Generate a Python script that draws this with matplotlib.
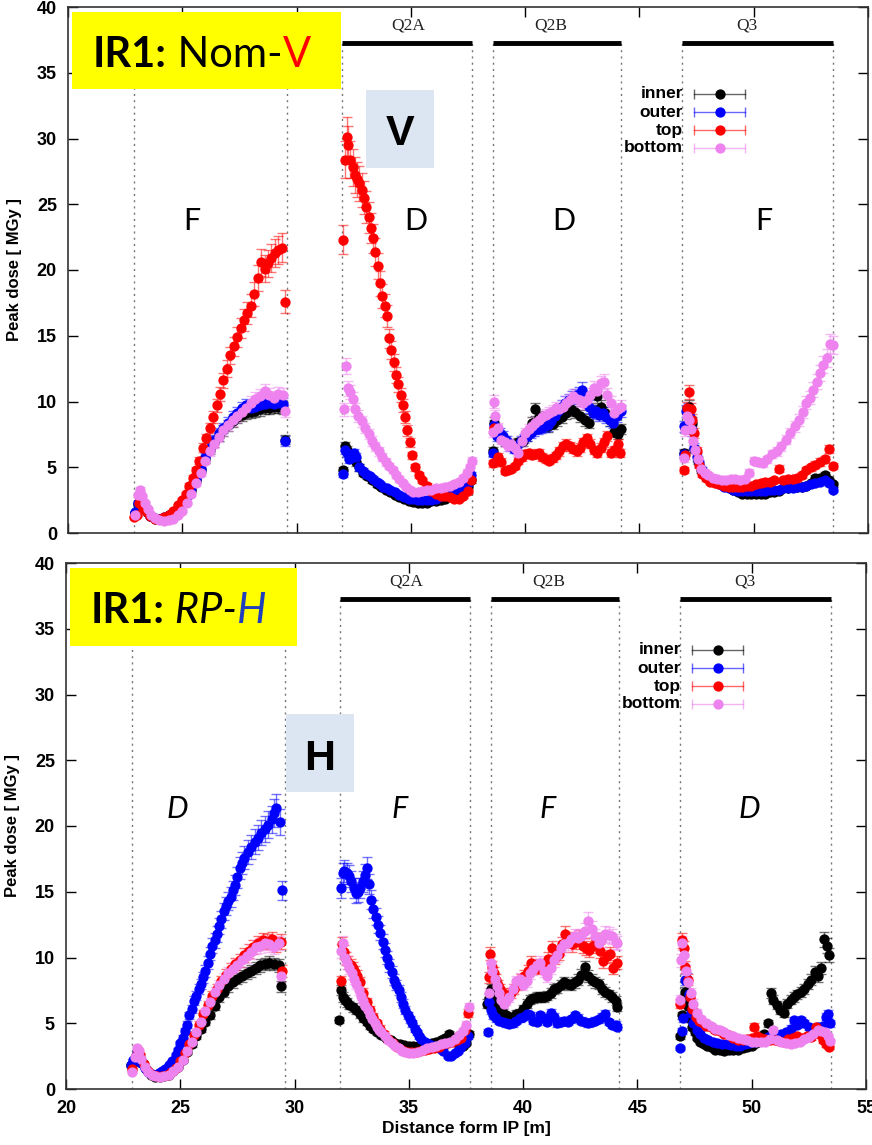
import matplotlib
matplotlib.use('Agg')
import matplotlib.pyplot as plt
from matplotlib.patches import Rectangle
from matplotlib.colors import to_rgba

plt.rcParams['font.family'] = ['Liberation Sans', 'DejaVu Sans']

# ---------------- IR1 Nom-V (top panel) ----------------
nom_inner_x = [22.95, 23.05, 23.15, 23.3, 23.45, 23.6, 23.8, 24.0, 24.2, 24.4, 24.6, 24.8, 25.0, 25.2, 25.4, 25.6, 25.8, 26.0, 26.2, 26.4, 26.6, 26.8, 27.0, 27.2, 27.4, 27.6, 27.8, 28.0, 28.2, 28.4, 28.6, 28.8, 29.0, 29.2, 29.4, 29.5,
               32.05, 32.12, 32.2, 32.3, 32.45, 32.6, 32.75, 32.9, 33.1, 33.3, 33.5, 33.7, 33.9, 34.1, 34.3, 34.5, 34.7, 34.9, 35.1, 35.3, 35.5, 35.7, 35.9, 36.1, 36.3, 36.5, 36.7, 36.9, 37.1, 37.3, 37.5, 37.65,
               38.58, 38.62, 38.75, 38.9, 39.1, 39.3, 39.5, 39.7, 39.9, 40.1, 40.3, 40.45, 40.6, 40.8, 41.0, 41.2, 41.4, 41.6, 41.8, 42.0, 42.2, 42.4, 42.6, 42.8, 43.0, 43.15, 43.3, 43.5, 43.7, 43.9, 44.05, 44.18,
               46.93, 46.98, 47.08, 47.18, 47.28, 47.4, 47.55, 47.7, 47.9, 48.1, 48.3, 48.5, 48.7, 48.9, 49.1, 49.3, 49.5, 49.7, 49.9, 50.1, 50.3, 50.5, 50.7, 50.9, 51.1, 51.3, 51.5, 51.7, 51.9, 52.1, 52.3, 52.5, 52.7, 52.9, 53.1, 53.3, 53.45]
nom_inner_y = [1.5, 2.2, 2.4, 2.0, 1.6, 1.3, 1.1, 1.05, 1.15, 1.35, 1.6, 1.9, 2.3, 2.8, 3.3, 4.0, 4.8, 5.6, 6.3, 6.9, 7.4, 7.8, 8.2, 8.5, 8.8, 9.0, 9.1, 9.2, 9.3, 9.4, 9.5, 9.5, 9.6, 9.6, 9.5, 7.1,
               4.8, 6.6, 6.3, 5.9, 5.7, 5.4, 5.0, 4.6, 4.3, 4.0, 3.7, 3.5, 3.3, 3.1, 2.9, 2.7, 2.55, 2.45, 2.35, 2.3, 2.3, 2.3, 2.4, 2.4, 2.5, 2.6, 2.8, 3.0, 3.2, 3.4, 3.6, 4.0,
               6.2, 8.4, 7.8, 7.4, 7.0, 6.8, 6.7, 6.9, 7.0, 7.4, 8.4, 9.4, 8.8, 8.4, 8.1, 8.3, 8.6, 8.8, 9.1, 9.4, 9.2, 8.9, 8.6, 8.4, 9.3, 10.4, 9.6, 9.1, 8.6, 7.7, 7.5, 7.9,
               6.1, 8.0, 9.2, 9.6, 8.4, 6.4, 5.5, 4.8, 4.3, 4.1, 4.0, 3.8, 3.6, 3.5, 3.3, 3.1, 3.0, 3.0, 3.0, 3.0, 3.0, 3.0, 3.1, 3.1, 3.2, 3.4, 3.4, 3.5, 3.5, 3.5, 3.6, 3.8, 4.2, 4.2, 4.4, 4.0, 3.7]

nom_outer_x = [22.95, 23.05, 23.15, 23.3, 23.45, 23.6, 23.8, 24.0, 24.2, 24.4, 24.6, 24.8, 25.0, 25.2, 25.4, 25.6, 25.8, 26.0, 26.2, 26.4, 26.6, 26.8, 27.0, 27.2, 27.4, 27.6, 27.8, 28.0, 28.2, 28.4, 28.6, 28.8, 29.0, 29.2, 29.4, 29.5,
               32.05, 32.12, 32.2, 32.3, 32.4, 32.5, 32.6, 32.75, 32.9, 33.05, 33.2, 33.35, 33.5, 33.65, 33.8, 33.95, 34.1, 34.3, 34.5, 34.7, 34.9, 35.1, 35.3, 35.5, 35.7, 35.9, 36.1, 36.3, 36.5, 36.7, 36.9, 37.1, 37.3, 37.5, 37.65,
               38.58, 38.62, 38.75, 38.9, 39.05, 39.2, 39.35, 39.5, 39.65, 39.8, 39.95, 40.1, 40.25, 40.4, 40.55, 40.7, 40.85, 41.0, 41.15, 41.3, 41.45, 41.6, 41.75, 41.9, 42.05, 42.2, 42.35, 42.5, 42.65, 42.8, 42.95, 43.1, 43.25, 43.4, 43.55, 43.7, 43.85, 44.0, 44.18,
               46.93, 46.97, 47.05, 47.12, 47.2, 47.3, 47.4, 47.5, 47.6, 47.75, 47.9, 48.1, 48.3, 48.5, 48.7, 48.9, 49.1, 49.3, 49.5, 49.7, 49.9, 50.1, 50.3, 50.5, 50.7, 50.9, 51.1, 51.3, 51.5, 51.7, 51.9, 52.1, 52.3, 52.5, 52.7, 52.9, 53.1, 53.3, 53.45]
nom_outer_y = [1.6, 2.3, 2.4, 2.0, 1.6, 1.3, 1.15, 1.1, 1.2, 1.4, 1.6, 1.9, 2.3, 2.8, 3.4, 4.1, 4.9, 5.8, 6.5, 7.1, 7.6, 8.0, 8.4, 8.8, 9.1, 9.5, 9.7, 9.5, 9.6, 9.7, 9.8, 9.9, 9.8, 9.9, 9.8, 7.0,
               4.5, 6.3, 6.1, 5.6, 5.7, 6.1, 5.8, 5.0, 4.7, 4.5, 4.3, 4.1, 3.9, 3.7, 3.5, 3.4, 3.3, 3.1, 2.9, 2.75, 2.6, 2.55, 2.5, 2.5, 2.5, 2.5, 2.6, 2.8, 3.0, 3.2, 3.3, 3.4, 3.5, 3.8, 4.4,
               6.1, 8.2, 7.4, 7.6, 7.4, 7.0, 6.6, 6.4, 6.7, 7.0, 7.2, 7.4, 7.6, 7.8, 7.9, 8.0, 8.1, 8.2, 8.5, 8.9, 9.3, 9.6, 9.9, 10.1, 10.3, 10.4, 10.6, 10.9, 10.3, 9.6, 9.1, 9.3, 9.0, 9.1, 8.8, 8.6, 8.4, 8.9, 9.3,
               6.0, 8.1, 9.3, 9.4, 8.8, 7.8, 6.5, 5.8, 5.3, 4.8, 4.4, 4.1, 3.9, 3.7, 3.5, 3.4, 3.3, 3.2, 3.2, 3.2, 3.2, 3.2, 3.2, 3.2, 3.3, 3.3, 3.3, 3.4, 3.4, 3.4, 3.5, 3.5, 3.6, 3.7, 3.8, 3.9, 4.0, 3.8, 3.3]

nom_top_x = [22.9, 23.0, 23.1, 23.2, 23.3, 23.45, 23.6, 23.8, 24.0, 24.2, 24.4, 24.6, 24.8, 25.0, 25.15, 25.3, 25.45, 25.6, 25.75, 25.9, 26.05, 26.2, 26.35, 26.5, 26.65, 26.8, 26.95, 27.1, 27.25, 27.4, 27.55, 27.7, 27.85, 28.0, 28.15, 28.3, 28.45, 28.6, 28.75, 28.9, 29.05, 29.2, 29.35, 29.5,
             32.05, 32.12, 32.2, 32.27, 32.35, 32.45, 32.55, 32.65, 32.75, 32.85, 32.95, 33.05, 33.15, 33.25, 33.35, 33.45, 33.55, 33.65, 33.75, 33.85, 33.95, 34.05, 34.15, 34.25, 34.35, 34.45, 34.55, 34.65, 34.75, 34.85, 34.95, 35.05, 35.2, 35.35, 35.5, 35.7, 35.9, 36.1, 36.3, 36.5, 36.7, 36.9, 37.1, 37.3, 37.5, 37.65,
             38.58, 38.65, 38.8, 38.95, 39.1, 39.25, 39.4, 39.55, 39.7, 39.85, 40.0, 40.15, 40.3, 40.45, 40.6, 40.75, 40.9, 41.05, 41.2, 41.35, 41.5, 41.65, 41.8, 41.95, 42.1, 42.25, 42.4, 42.55, 42.7, 42.85, 43.0, 43.15, 43.3, 43.45, 43.6, 43.75, 43.9, 44.05, 44.15,
             46.95, 47.0, 47.1, 47.18, 47.25, 47.32, 47.4, 47.5, 47.6, 47.75, 47.9, 48.1, 48.3, 48.5, 48.7, 48.9, 49.1, 49.3, 49.5, 49.7, 49.9, 50.1, 50.3, 50.5, 50.7, 50.9, 51.1, 51.3, 51.5, 51.7, 51.9, 52.1, 52.3, 52.5, 52.7, 52.9, 53.1, 53.3, 53.45]
nom_top_y = [1.2, 1.4, 2.3, 2.2, 1.9, 1.6, 1.3, 1.1, 1.05, 1.2, 1.4, 1.7, 2.1, 2.5, 3.0, 3.6, 4.2, 4.8, 5.5, 6.5, 7.2, 8.0, 8.8, 9.7, 10.6, 11.6, 12.5, 13.5, 14.2, 14.9, 15.6, 16.2, 16.7, 17.3, 18.2, 19.4, 20.6, 20.1, 20.5, 20.9, 21.3, 21.5, 21.7, 17.6,
             22.3, 28.4, 30.1, 29.5, 28.4, 27.8, 27.2, 26.9, 26.6, 26.1, 25.5, 24.8, 24.0, 23.2, 22.4, 21.4, 20.3, 19.0, 18.0, 17.3, 16.5, 14.8, 13.9, 13.0, 12.0, 11.3, 10.5, 9.7, 8.8, 7.8, 6.9, 5.9, 5.0, 4.4, 4.0, 3.6, 3.2, 3.0, 2.8, 2.8, 2.7, 2.6, 2.6, 2.8, 3.2, 4.0,
             5.3, 8.0, 5.8, 5.4, 4.7, 4.8, 4.9, 5.1, 5.5, 5.8, 6.0, 6.1, 5.9, 6.0, 6.1, 5.8, 5.6, 5.5, 5.7, 5.9, 6.2, 6.6, 6.8, 6.6, 6.4, 6.2, 6.5, 6.9, 7.2, 6.8, 6.3, 6.1, 6.5, 6.9, 7.4, 6.1, 6.3, 6.8, 6.1,
             4.8, 5.9, 9.5, 10.7, 9.4, 8.6, 7.6, 6.2, 5.2, 4.5, 4.2, 3.9, 3.8, 3.7, 3.6, 3.5, 3.5, 3.5, 3.5, 3.6, 3.6, 3.7, 3.8, 3.9, 3.9, 4.0, 4.9, 4.0, 4.1, 4.1, 4.2, 4.4, 4.8, 5.0, 5.2, 5.4, 5.6, 6.4, 5.1]

nom_bottom_x = [22.95, 23.05, 23.15, 23.25, 23.35, 23.5, 23.65, 23.8, 24.0, 24.2, 24.4, 24.6, 24.8, 25.0, 25.2, 25.4, 25.6, 25.8, 26.0, 26.2, 26.4, 26.6, 26.8, 27.0, 27.2, 27.4, 27.6, 27.8, 28.0, 28.2, 28.4, 28.6, 28.8, 29.0, 29.2, 29.4, 29.5,
                32.07, 32.15, 32.25, 32.35, 32.45, 32.55, 32.7, 32.85, 33.0, 33.15, 33.3, 33.45, 33.6, 33.75, 33.9, 34.05, 34.2, 34.35, 34.5, 34.65, 34.8, 34.95, 35.1, 35.3, 35.5, 35.7, 35.9, 36.1, 36.3, 36.5, 36.7, 36.9, 37.1, 37.3, 37.45, 37.6, 37.68,
                38.58, 38.62, 38.7, 38.8, 38.95, 39.1, 39.25, 39.4, 39.55, 39.7, 39.85, 40.0, 40.15, 40.3, 40.45, 40.6, 40.75, 40.9, 41.05, 41.2, 41.35, 41.5, 41.65, 41.8, 41.95, 42.1, 42.25, 42.4, 42.55, 42.7, 42.85, 43.0, 43.15, 43.3, 43.45, 43.6, 43.75, 43.9, 44.05, 44.18,
                46.93, 47.0, 47.06, 47.15, 47.25, 47.35, 47.45, 47.55, 47.7, 47.85, 48.0, 48.2, 48.4, 48.6, 48.8, 49.0, 49.2, 49.4, 49.6, 49.8, 50.0, 50.2, 50.4, 50.6, 50.8, 51.0, 51.2, 51.4, 51.6, 51.8, 52.0, 52.15, 52.3, 52.45, 52.6, 52.75, 52.9, 53.05, 53.2, 53.32, 53.45]
nom_bottom_y = [1.4, 2.9, 3.3, 2.8, 2.3, 1.8, 1.4, 1.15, 1.0, 0.95, 1.0, 1.1, 1.35, 1.7, 2.3, 3.0, 3.8, 4.6, 5.5, 6.2, 6.8, 7.3, 7.8, 8.2, 8.6, 8.9, 9.2, 9.5, 9.9, 10.2, 10.4, 10.8, 10.5, 10.3, 10.6, 10.5, 9.3,
                9.4, 12.7, 11.0, 10.7, 10.2, 9.4, 8.9, 8.5, 8.0, 7.5, 7.0, 6.6, 6.2, 5.8, 5.4, 5.1, 4.8, 4.4, 4.1, 3.8, 3.5, 3.3, 3.15, 3.1, 3.2, 3.3, 3.3, 3.4, 3.4, 3.5, 3.6, 3.7, 3.9, 4.2, 4.6, 5.0, 5.5,
                7.7, 10.0, 8.9, 8.0, 7.1, 6.9, 6.6, 6.8, 6.5, 6.1, 7.0, 7.6, 7.9, 8.1, 8.4, 8.6, 8.8, 9.0, 9.1, 9.3, 9.5, 9.4, 9.6, 9.9, 10.1, 10.4, 10.2, 10.1, 9.9, 10.1, 10.5, 11.0, 10.8, 11.4, 11.5, 10.5, 9.9, 9.1, 9.4, 9.6,
                5.7, 7.8, 8.9, 8.6, 7.9, 7.0, 6.3, 5.6, 4.9, 4.6, 4.4, 4.2, 4.1, 4.0, 4.0, 4.1, 4.1, 4.0, 4.1, 4.6, 5.5, 5.4, 5.3, 5.6, 6.0, 6.2, 6.6, 7.1, 7.6, 8.1, 8.6, 9.2, 9.9, 10.3, 10.9, 11.5, 12.2, 12.8, 13.3, 14.4, 14.3]

# ---------------- IR1 RP-H (bottom panel) ----------------
rp_inner_x = [22.83, 22.95, 23.1, 23.2, 23.35, 23.5, 23.7, 23.9, 24.1, 24.3, 24.5, 24.7, 24.9, 25.1, 25.3, 25.5, 25.7, 25.9, 26.1, 26.3, 26.5, 26.7, 26.9, 27.1, 27.3, 27.5, 27.7, 27.9, 28.1, 28.3, 28.5, 28.7, 28.9, 29.1, 29.3, 29.42,
              31.95, 32.02, 32.1, 32.2, 32.3, 32.4, 32.55, 32.7, 32.85, 33.0, 33.15, 33.3, 33.45, 33.6, 33.8, 34.0, 34.2, 34.4, 34.6, 34.8, 35.0, 35.2, 35.4, 35.6, 35.8, 36.0, 36.2, 36.4, 36.6, 36.75, 36.9, 37.05, 37.2, 37.35, 37.5, 37.62,
              38.43, 38.52, 38.6, 38.7, 38.8, 38.95, 39.1, 39.25, 39.4, 39.55, 39.7, 39.85, 40.0, 40.15, 40.3, 40.45, 40.6, 40.75, 40.9, 41.05, 41.2, 41.35, 41.5, 41.65, 41.8, 41.95, 42.1, 42.25, 42.4, 42.55, 42.7, 42.85, 43.0, 43.15, 43.3, 43.45, 43.6, 43.75, 43.9, 44.05, 44.12,
              46.85, 46.93, 47.0, 47.08, 47.15, 47.22, 47.3, 47.4, 47.5, 47.62, 47.75, 47.9, 48.05, 48.2, 48.4, 48.6, 48.8, 49.0, 49.2, 49.4, 49.6, 49.8, 50.0, 50.2, 50.4, 50.55, 50.7, 50.83, 50.95, 51.1, 51.25, 51.4, 51.55, 51.7, 51.85, 52.0, 52.15, 52.3, 52.45, 52.6, 52.75, 52.9, 53.05, 53.16, 53.3, 53.4]
rp_inner_y = [1.8, 2.0, 2.4, 2.5, 2.0, 1.5, 1.1, 0.9, 0.9, 1.0, 1.1, 1.35, 1.7, 2.2, 2.8, 3.4, 4.0, 4.6, 5.1, 5.6, 6.3, 7.0, 7.4, 7.8, 8.1, 8.4, 8.6, 8.8, 9.0, 9.2, 9.4, 9.5, 9.6, 9.5, 9.4, 7.8,
              5.25, 7.5, 7.0, 6.8, 6.6, 6.4, 6.2, 6.0, 5.7, 5.4, 5.1, 4.8, 4.6, 4.3, 4.1, 3.9, 3.7, 3.5, 3.4, 3.35, 3.3, 3.3, 3.3, 3.35, 3.4, 3.5, 3.6, 3.7, 3.9, 4.2, 3.9, 3.6, 3.4, 3.3, 3.5, 4.2,
              6.5, 6.9, 7.6, 6.9, 6.4, 6.1, 5.8, 5.6, 5.5, 5.5, 5.7, 5.8, 6.1, 6.5, 6.8, 6.9, 7.0, 7.0, 7.0, 7.1, 7.3, 7.6, 7.7, 7.9, 8.1, 8.0, 7.9, 8.1, 8.3, 8.7, 9.3, 8.6, 8.3, 8.1, 8.0, 7.6, 7.4, 7.2, 7.0, 6.7, 6.25,
              4.0, 5.6, 6.7, 7.4, 7.0, 6.3, 5.4, 4.75, 4.3, 3.9, 3.6, 3.4, 3.3, 3.2, 3.0, 2.95, 2.9, 2.95, 2.95, 3.0, 3.1, 3.2, 3.3, 3.5, 3.7, 4.2, 5.0, 7.3, 6.8, 6.4, 6.0, 5.75, 6.5, 6.8, 7.0, 7.2, 7.4, 7.6, 8.0, 8.3, 8.9, 8.6, 9.2, 11.4, 10.9, 10.2]

rp_outer_x = [22.83, 22.95, 23.05, 23.12, 23.2, 23.3, 23.45, 23.6, 23.75, 23.9, 24.05, 24.2, 24.35, 24.5, 24.65, 24.8, 24.9, 25.0, 25.1, 25.2, 25.3, 25.4, 25.5, 25.6, 25.7, 25.8, 25.9, 26.0, 26.1, 26.2, 26.3, 26.4, 26.5, 26.6, 26.7, 26.8, 26.9, 27.0, 27.1, 27.2, 27.3, 27.4, 27.5, 27.6, 27.7, 27.8, 27.95, 28.1, 28.25, 28.4, 28.55, 28.7, 28.85, 29.0, 29.1, 29.2, 29.35, 29.45,
              32.02, 32.1, 32.18, 32.28, 32.38, 32.48, 32.58, 32.68, 32.78, 32.88, 32.98, 33.08, 33.15, 33.25, 33.35, 33.45, 33.55, 33.65, 33.75, 33.85, 33.95, 34.05, 34.15, 34.25, 34.35, 34.45, 34.55, 34.65, 34.75, 34.85, 34.95, 35.05, 35.15, 35.25, 35.35, 35.45, 35.55, 35.7, 35.9, 36.1, 36.3, 36.5, 36.7, 36.85, 37.0, 37.15, 37.3, 37.45, 37.6,
              38.48, 38.52, 38.6, 38.7, 38.8, 38.95, 39.1, 39.25, 39.4, 39.55, 39.7, 39.85, 40.0, 40.15, 40.3, 40.45, 40.6, 40.75, 40.9, 41.05, 41.2, 41.35, 41.5, 41.65, 41.8, 41.95, 42.1, 42.25, 42.4, 42.55, 42.7, 42.85, 43.0, 43.15, 43.3, 43.45, 43.6, 43.75, 43.9, 44.05, 44.12,
              46.85, 46.93, 47.0, 47.08, 47.15, 47.25, 47.35, 47.45, 47.6, 47.75, 47.9, 48.1, 48.3, 48.5, 48.7, 48.9, 49.1, 49.3, 49.5, 49.7, 49.9, 50.1, 50.3, 50.5, 50.7, 50.9, 51.1, 51.3, 51.5, 51.7, 51.85, 52.0, 52.15, 52.3, 52.5, 52.7, 52.9, 53.1, 53.25, 53.35, 53.42]
rp_outer_y = [1.8, 2.2, 2.5, 2.7, 2.4, 2.0, 1.6, 1.3, 1.15, 1.1, 1.2, 1.35, 1.5, 1.8, 2.1, 2.6, 3.0, 3.5, 3.9, 4.4, 4.9, 5.6, 6.1, 6.7, 7.1, 7.6, 8.0, 8.5, 9.0, 9.6, 10.3, 10.9, 11.3, 11.8, 12.4, 12.9, 13.5, 13.9, 14.3, 14.6, 15.1, 15.5, 16.1, 16.8, 17.2, 17.6, 18.0, 18.4, 18.8, 19.1, 19.5, 19.8, 20.1, 20.5, 21.0, 21.4, 20.3, 15.1,
              15.3, 16.4, 16.6, 16.4, 16.2, 15.8, 15.3, 14.9, 15.0, 15.3, 15.8, 16.3, 16.8, 15.6, 14.4, 13.7, 13.1, 12.5, 11.9, 11.2, 10.6, 10.0, 9.4, 8.9, 8.3, 7.9, 7.5, 7.0, 6.5, 6.0, 5.6, 5.3, 5.0, 4.6, 4.3, 4.0, 3.8, 3.6, 3.4, 3.3, 3.1, 2.9, 2.5, 2.5, 2.7, 2.9, 3.2, 3.5, 4.0,
              4.35, 6.6, 6.0, 5.6, 5.4, 5.2, 5.1, 5.0, 4.95, 5.0, 5.2, 5.4, 5.5, 5.7, 5.6, 5.2, 5.1, 5.6, 5.4, 5.1, 5.8, 5.5, 5.0, 5.1, 5.2, 5.1, 5.3, 5.6, 5.4, 5.2, 5.1, 5.0, 5.1, 5.2, 5.3, 5.5, 5.7, 5.1, 4.85, 4.9, 4.7,
              3.1, 4.4, 5.4, 8.3, 8.4, 7.2, 5.8, 5.0, 4.5, 4.2, 3.9, 3.7, 3.6, 3.5, 3.4, 3.4, 3.35, 3.3, 3.3, 3.4, 3.5, 3.55, 3.7, 3.8, 3.95, 4.0, 4.1, 4.2, 4.3, 4.6, 5.25, 4.9, 5.25, 5.0, 4.7, 4.6, 4.7, 4.8, 5.5, 5.7, 5.0]

rp_top_x = [22.9, 23.05, 23.15, 23.25, 23.4, 23.6, 23.8, 24.0, 24.2, 24.4, 24.6, 24.8, 25.0, 25.2, 25.4, 25.6, 25.8, 26.0, 26.2, 26.4, 26.6, 26.8, 27.0, 27.2, 27.4, 27.6, 27.8, 28.0, 28.2, 28.4, 28.6, 28.8, 29.0, 29.2, 29.4, 29.45,
            32.02, 32.06, 32.15, 32.25, 32.35, 32.45, 32.55, 32.65, 32.75, 32.85, 33.0, 33.15, 33.3, 33.45, 33.6, 33.75, 33.9, 34.1, 34.3, 34.5, 34.7, 34.9, 35.1, 35.3, 35.5, 35.7, 35.9, 36.1, 36.3, 36.5, 36.7, 36.9, 37.1, 37.3, 37.45, 37.6,
            38.5, 38.55, 38.63, 38.72, 38.8, 38.9, 39.0, 39.1, 39.2, 39.3, 39.45, 39.6, 39.75, 39.9, 40.05, 40.2, 40.35, 40.5, 40.65, 40.8, 40.95, 41.1, 41.25, 41.4, 41.55, 41.7, 41.85, 42.0, 42.15, 42.3, 42.45, 42.6, 42.75, 42.9, 43.05, 43.2, 43.35, 43.5, 43.65, 43.8, 43.95, 44.1,
            46.88, 46.95, 47.02, 47.1, 47.2, 47.3, 47.4, 47.55, 47.7, 47.85, 48.0, 48.2, 48.4, 48.6, 48.8, 49.0, 49.2, 49.4, 49.6, 49.8, 50.0, 50.1, 50.25, 50.4, 50.6, 50.8, 51.0, 51.2, 51.4, 51.6, 51.8, 52.0, 52.2, 52.4, 52.6, 52.8, 52.95, 53.1, 53.25, 53.38]
rp_top_y = [1.5, 2.5, 3.0, 2.6, 1.9, 1.4, 1.1, 1.0, 1.0, 1.1, 1.3, 1.6, 2.1, 2.7, 3.4, 4.1, 4.9, 5.7, 6.4, 7.1, 7.6, 8.2, 8.7, 9.1, 9.5, 9.8, 10.2, 10.5, 10.8, 11.1, 11.3, 11.2, 11.4, 11.0, 11.2, 9.0,
            8.2, 11.0, 10.4, 9.9, 9.6, 9.4, 9.2, 8.9, 8.6, 8.1, 7.3, 6.6, 6.0, 5.5, 5.0, 4.6, 4.2, 3.8, 3.5, 3.2, 3.0, 2.85, 2.8, 2.85, 2.9, 3.0, 3.05, 3.1, 3.2, 3.4, 3.5, 3.6, 3.7, 3.9, 4.5, 5.8,
            8.5, 10.3, 9.3, 8.8, 8.3, 7.9, 7.6, 7.3, 7.0, 7.1, 7.3, 7.6, 7.9, 8.3, 8.6, 9.0, 9.6, 9.4, 9.2, 9.3, 9.4, 9.9, 10.7, 10.0, 10.3, 11.0, 11.8, 11.4, 11.0, 11.2, 11.5, 10.9, 10.7, 10.6, 10.9, 11.3, 10.5, 9.7, 10.1, 10.3, 9.2, 9.6,
            6.5, 11.3, 10.7, 9.3, 8.3, 7.0, 6.1, 5.5, 5.2, 5.0, 4.8, 4.7, 4.5, 4.4, 4.2, 4.1, 3.9, 3.7, 3.7, 3.8, 3.9, 4.75, 4.0, 3.9, 3.8, 3.7, 3.7, 3.65, 3.6, 3.8, 3.9, 4.0, 3.9, 4.0, 3.95, 4.7, 4.2, 3.7, 3.4, 3.2]

rp_bottom_x = [22.9, 23.0, 23.1, 23.2, 23.3, 23.45, 23.6, 23.75, 23.9, 24.1, 24.3, 24.5, 24.7, 24.9, 25.1, 25.3, 25.5, 25.7, 25.9, 26.1, 26.3, 26.5, 26.7, 26.9, 27.1, 27.3, 27.5, 27.7, 27.9, 28.1, 28.3, 28.5, 28.7, 28.9, 29.1, 29.3, 29.42,
               32.05, 32.1, 32.2, 32.3, 32.4, 32.5, 32.6, 32.7, 32.8, 32.9, 33.0, 33.1, 33.2, 33.3, 33.4, 33.5, 33.6, 33.7, 33.8, 33.95, 34.1, 34.25, 34.4, 34.55, 34.7, 34.85, 35.0, 35.2, 35.4, 35.6, 35.8, 36.0, 36.2, 36.4, 36.6, 36.8, 37.0, 37.2, 37.35, 37.5, 37.62,
               38.5, 38.58, 38.65, 38.75, 38.85, 38.95, 39.05, 39.15, 39.25, 39.4, 39.55, 39.7, 39.85, 40.0, 40.15, 40.3, 40.45, 40.6, 40.75, 40.9, 41.05, 41.2, 41.35, 41.5, 41.65, 41.8, 41.95, 42.1, 42.25, 42.4, 42.55, 42.7, 42.85, 43.0, 43.15, 43.3, 43.45, 43.6, 43.75, 43.9, 44.05, 44.12,
               46.85, 46.9, 46.97, 47.05, 47.13, 47.22, 47.33, 47.45, 47.6, 47.8, 48.0, 48.2, 48.4, 48.6, 48.8, 49.0, 49.2, 49.4, 49.6, 49.8, 50.0, 50.2, 50.4, 50.6, 50.8, 50.95, 51.1, 51.3, 51.5, 51.7, 51.9, 52.1, 52.3, 52.5, 52.7, 52.9, 53.05, 53.2, 53.32, 53.42]
rp_bottom_y = [1.3, 2.4, 3.1, 2.9, 2.3, 1.7, 1.3, 1.1, 1.0, 0.95, 1.0, 1.1, 1.35, 1.7, 2.2, 2.9, 3.6, 4.3, 5.1, 5.9, 6.6, 7.4, 7.9, 8.4, 8.8, 9.1, 9.4, 9.8, 10.1, 10.4, 10.8, 10.9, 11.1, 11.0, 10.8, 11.1, 8.6,
               10.5, 11.1, 10.0, 9.6, 9.2, 8.8, 8.4, 8.0, 7.5, 7.1, 6.7, 6.3, 6.0, 5.6, 5.3, 5.0, 4.7, 4.5, 4.3, 4.0, 3.7, 3.5, 3.3, 3.1, 2.9, 2.8, 2.7, 2.7, 2.8, 3.0, 3.1, 3.2, 3.3, 3.4, 3.5, 3.6, 3.8, 4.1, 4.4, 4.9, 6.2,
               7.3, 9.6, 9.0, 8.4, 7.8, 7.3, 6.8, 6.5, 6.7, 7.0, 7.6, 8.2, 8.4, 7.9, 8.2, 8.8, 9.1, 9.4, 9.6, 9.0, 8.6, 9.2, 9.8, 10.2, 10.7, 11.0, 11.1, 11.4, 11.6, 11.5, 11.6, 12.0, 12.8, 12.2, 11.6, 11.1, 11.4, 11.8, 11.7, 11.6, 11.2, 11.1,
               6.8, 9.8, 11.1, 10.2, 9.0, 8.1, 7.3, 6.5, 5.8, 5.3, 5.0, 4.8, 4.6, 4.5, 4.3, 4.1, 4.0, 3.9, 3.8, 3.7, 3.6, 3.6, 3.55, 3.6, 3.8, 4.5, 3.7, 3.6, 3.5, 3.45, 3.5, 3.6, 3.8, 3.95, 4.2, 4.5, 4.4, 4.3, 4.0, 3.65]

series_names = ['inner', 'outer', 'top', 'bottom']
series_colors = ['black', '#0000ff', '#ff0000', '#ee82ee']
rel_err = 0.05  # estimated relative error bar size

# magnet boundaries [m] and quadrupole names
quad_names = ['Q2A', 'Q2B', 'Q3']
quad_start = [31.97, 38.58, 46.87]
quad_end = [37.67, 44.18, 53.45]
boundaries = [22.88, 29.57, 31.97, 37.67, 38.58, 44.18, 46.87, 53.45]
quad_label_x = [34.9, 41.1, 49.7]

nom_letters = ['F', 'D', 'D', 'F']
nom_letters_x = [25.4, 35.2, 41.7, 50.45]
rp_letters = ['D', 'F', 'F', 'D']
rp_letters_x = [24.85, 34.6, 41.05, 49.9]


def draw_panel(ax, xs, ys):
    for bx in boundaries:
        ax.plot([bx, bx], [0, 37.3], color='#777777', lw=1.0, ls=(0, (1.5, 3)), zorder=1)
    for name, x0, x1, xl in zip(quad_names, quad_start, quad_end, quad_label_x):
        ax.plot([x0, x1], [37.3, 37.3], color='black', lw=3.5, solid_capstyle='butt', zorder=2)
        ax.text(xl, 38.0, name, ha='center', va='bottom', fontsize=12.5,
                family='Liberation Serif', color='#222222')
    for x, y, c in zip(xs, ys, series_colors):
        err = [v * rel_err for v in y]
        ax.errorbar(x, y, yerr=err, fmt='o', ms=6.4, color=c, ecolor=to_rgba(c, 0.55),
                    elinewidth=1.0, capsize=3.5, capthick=1.0, zorder=3)

    # gnuplot-like key
    rows = [0.835, 0.800, 0.766, 0.732]
    for name, c, ry in zip(series_names, series_colors, rows):
        ax.text(0.769, ry, name, transform=ax.transAxes, ha='right', va='center',
                fontsize=12.5, fontweight='bold')
        ax.plot([0.7825, 0.846], [ry, ry], transform=ax.transAxes, color=c, lw=1, alpha=0.6)
        ax.plot([0.7825, 0.846], [ry, ry], transform=ax.transAxes, ls='none',
                marker='|', ms=7, mew=1, color=c, alpha=0.6)
        ax.plot([0.815], [ry], transform=ax.transAxes, marker='o', ms=6.4, color=c)

    ax.set_xlim(20, 55)
    ax.set_ylim(0, 40)
    ax.set_xticks(range(20, 56, 5))
    ax.set_yticks(range(0, 41, 5))
    ax.tick_params(direction='in', length=7, width=1, top=True, right=True,
                   labelsize=13, pad=8)
    for lab in ax.get_xticklabels() + ax.get_yticklabels():
        lab.set_fontweight('bold')
    for s in ax.spines.values():
        s.set_linewidth(1.2)
        s.set_color('#333333')
    ax.set_ylabel('Peak dose [ MGy ]', fontsize=12, fontweight='bold')
    ax.yaxis.set_label_coords(-0.058, 0.5)


def title_box(ax, x0, x1, y0, y1, tx, ty, parts):
    ax.add_patch(Rectangle((x0, y0), x1 - x0, y1 - y0, transform=ax.transAxes,
                           facecolor='#ffff00', edgecolor='none', zorder=5))
    prev = None
    for text, weight, style, color in parts:
        if prev is None:
            prev = ax.text(tx, ty, text, transform=ax.transAxes, fontsize=30,
                           fontweight=weight, style=style, color=color,
                           family='Lato', va='baseline', ha='left', zorder=6)
        else:
            prev = ax.annotate(text, xy=(1, 0), xycoords=prev, va='bottom', ha='left',
                               fontsize=30, fontweight=weight, style=style, color=color,
                               family='Lato', zorder=6)


fig = plt.figure(figsize=(8.72, 11.45), dpi=100)
W, H = 872.0, 1145.0
ax1 = fig.add_axes([68 / W, 1 - 533 / H, 800 / W, 526 / H])
ax2 = fig.add_axes([66 / W, 1 - 1089 / H, 800 / W, 526 / H])

draw_panel(ax1, [nom_inner_x, nom_outer_x, nom_top_x, nom_bottom_x],
           [nom_inner_y, nom_outer_y, nom_top_y, nom_bottom_y])
draw_panel(ax2, [rp_inner_x, rp_outer_x, rp_top_x, rp_bottom_x],
           [rp_inner_y, rp_outer_y, rp_top_y, rp_bottom_y])

ax1.tick_params(labelbottom=False)
ax2.set_xlabel('Distance form IP [m]', fontsize=12.5, fontweight='bold')
ax2.xaxis.set_label_coords(0.5, -0.060)

# magnet polarity letters
for s, x in zip(nom_letters, nom_letters_x):
    ax1.text(x, 23.06, s, ha='center', va='baseline', fontsize=22, family='Lato')
for s, x in zip(rp_letters, rp_letters_x):
    ax2.text(x, 20.6, s, ha='center', va='baseline', fontsize=22, family='Lato', style='italic')

# titles
title_box(ax1, 0.005, 0.341, 0.844, 0.9905, 0.031, 0.886,
          [('IR1:', 'bold', 'normal', 'black'), (' Nom-', 'normal', 'normal', 'black'),
           ('V', 'normal', 'normal', '#ff0000')])
title_box(ax2, 0.005, 0.289, 0.842, 0.9905, 0.031, 0.886,
          [('IR1:', 'bold', 'normal', 'black'), (' RP-', 'normal', 'italic', 'black'),
           ('H', 'normal', 'italic', '#1f3fbf')])

# plane boxes
ax1.add_patch(Rectangle((0.372, 0.694), 0.085, 0.148, transform=ax1.transAxes,
                        facecolor='#dce6f2', edgecolor='none', zorder=5))
ax1.text(0.4145, 0.7376, 'V', transform=ax1.transAxes, ha='center', va='baseline',
         fontsize=31, fontweight='bold', zorder=6)
ax2.add_patch(Rectangle((0.275, 0.565), 0.085, 0.148, transform=ax2.transAxes,
                        facecolor='#dce6f2', edgecolor='none', zorder=5))
ax2.text(0.3175, 0.6065, 'H', transform=ax2.transAxes, ha='center', va='baseline',
         fontsize=31, fontweight='bold', zorder=6)

fig.savefig('out.png', dpi=100)
